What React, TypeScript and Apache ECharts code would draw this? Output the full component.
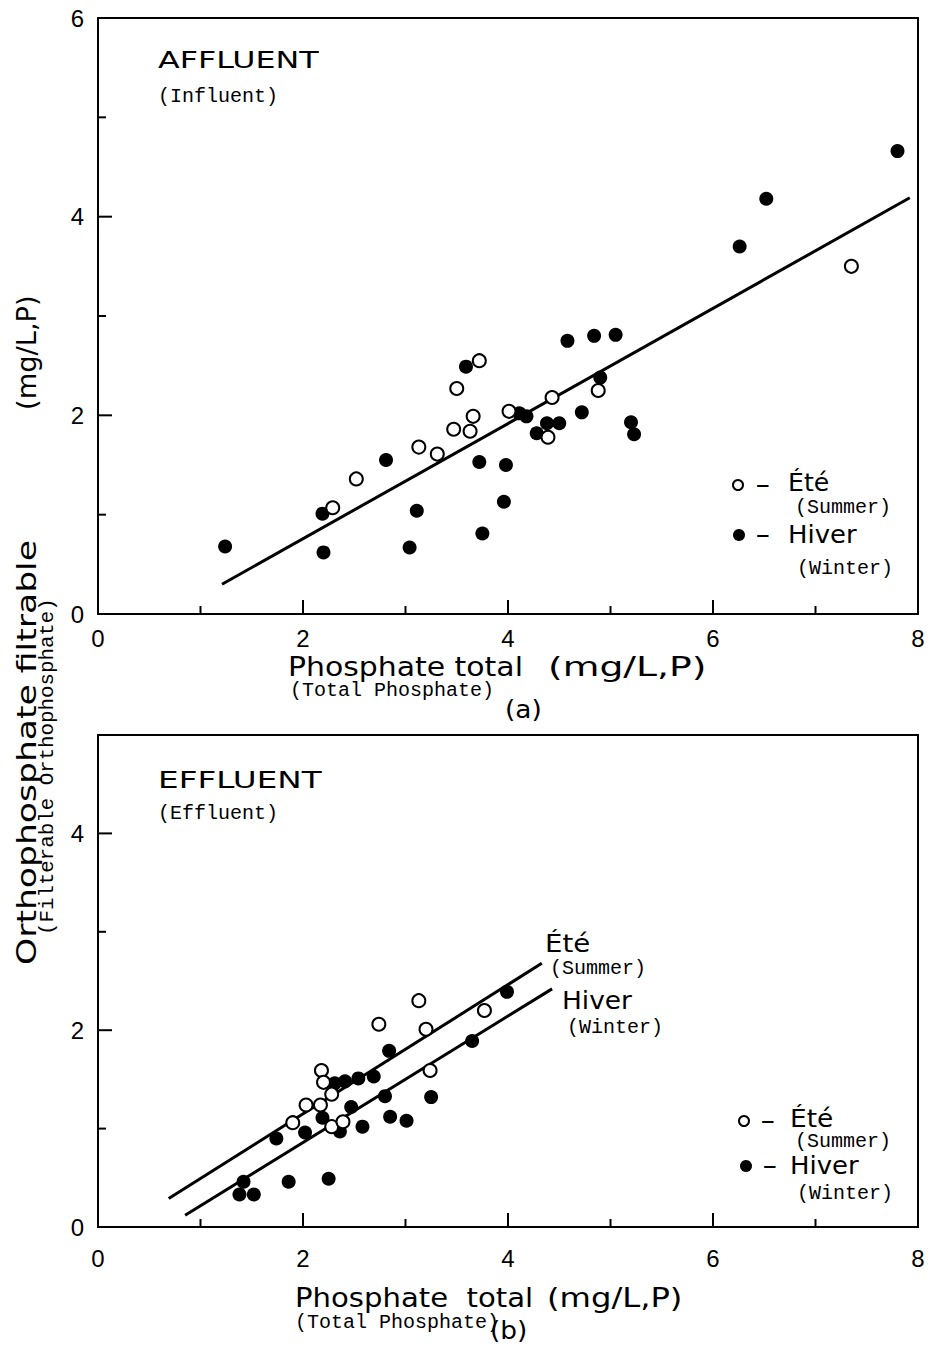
import React, { useEffect, useRef } from "react";
import * as echarts from "echarts";

// ---------- data ----------
// (a) Influent — summer (open circles)
const influentSummer: [number, number][] = [
  [2.29, 1.07], [2.52, 1.36], [3.13, 1.68], [3.31, 1.61], [3.47, 1.86],
  [3.5, 2.27], [3.63, 1.84], [3.66, 1.99], [3.72, 2.55], [4.01, 2.04],
  [4.39, 1.78], [4.43, 2.18], [4.88, 2.25], [7.35, 3.5],
];
// (a) Influent — winter (filled circles)
const influentWinter: [number, number][] = [
  [1.24, 0.68], [2.19, 1.01], [2.2, 0.62], [2.81, 1.55], [3.04, 0.67],
  [3.11, 1.04], [3.59, 2.49], [3.72, 1.53], [3.75, 0.81], [3.98, 1.5],
  [3.96, 1.13], [4.11, 2.02], [4.18, 1.99], [4.28, 1.82], [4.38, 1.92],
  [4.5, 1.92], [4.58, 2.75], [4.72, 2.03], [4.84, 2.8], [4.9, 2.38],
  [5.05, 2.81], [5.2, 1.93], [5.23, 1.81], [6.26, 3.7], [6.52, 4.18],
  [7.8, 4.66],
];
// (a) fitted line end points
const influentFit: [number, number][] = [[1.21, 0.3], [7.92, 4.19]];

// (b) Effluent — summer (open circles)
const effluentSummer: [number, number][] = [
  [1.9, 1.06], [2.03, 1.24], [2.17, 1.24], [2.18, 1.59], [2.2, 1.47],
  [2.28, 1.35], [2.28, 1.02], [2.39, 1.07], [2.74, 2.06], [3.13, 2.3],
  [3.2, 2.01], [3.24, 1.59], [3.77, 2.2],
];
// (b) Effluent — winter (filled circles)
const effluentWinter: [number, number][] = [
  [1.38, 0.33], [1.42, 0.46], [1.52, 0.33], [1.74, 0.9], [1.86, 0.46],
  [2.02, 0.96], [2.19, 1.11], [2.25, 0.49], [2.31, 1.46], [2.36, 0.97],
  [2.41, 1.48], [2.47, 1.22], [2.54, 1.51], [2.58, 1.02], [2.69, 1.53],
  [2.8, 1.33], [2.84, 1.79], [2.85, 1.12], [3.01, 1.08], [3.25, 1.32],
  [3.65, 1.89], [3.99, 2.39],
];
// (b) fitted lines
const effluentSummerFit: [number, number][] = [[0.69, 0.29], [4.33, 2.68]];
const effluentWinterFit: [number, number][] = [[0.85, 0.12], [4.43, 2.42]];

// tick labels and tick marks
const xLabelValues = [0, 2, 4, 6, 8];
const yTopLabelValues = [0, 2, 4, 6];
const yBottomLabelValues = [0, 2, 4];
const xMajorTicks = [2, 4, 6];
const xMinorTicks = [1, 3, 5, 7];
const yTopMajorTicks = [2, 4];
const yTopMinorTicks = [1, 3, 5];
const yBottomMajorTicks = [2, 4];
const yBottomMinorTicks = [1, 3];

// ---------- styling ----------
const SANS = "DejaVu Sans";
const MONO = "Liberation Mono";
const BLACK = "#000";
const MAJOR_LEN = 14;
const MINOR_LEN = 8;

function labelAxis(gridIndex: number, position: string, min: number, max: number, labels: number[], margin: number) {
  return {
    type: "value",
    gridIndex,
    position,
    min,
    max,
    interval: 2,
    axisLine: { show: true, onZero: false, lineStyle: { color: BLACK, width: 2 } },
    axisTick: { show: false },
    axisLabel: {
      show: true,
      margin,
      color: BLACK,
      fontFamily: "Liberation Sans",
      fontSize: 24,
      showMinLabel: true,
      showMaxLabel: true,
      formatter: (v: number) => (labels.includes(v) ? String(v) : ""),
    },
    splitLine: { show: false },
  };
}

function txt(
  text: string,
  x: number,
  y: number,
  opts: { size?: number; family?: string; scaleX?: number; rotation?: number; align?: string } = {}
) {
  const align = opts.align || "left";
  return {
    type: "text",
    x,
    y,
    rotation: opts.rotation || 0,
    scaleX: opts.scaleX || 1,
    style: {
      text,
      fill: BLACK,
      fontSize: opts.size || 24,
      fontFamily: opts.family || SANS,
      align,
      verticalAlign: "middle",
      textAlign: align,
      textVerticalAlign: "middle",
    },
  };
}

function openDot(cx: number, cy: number) {
  return { type: "circle", shape: { cx, cy, r: 5 }, style: { fill: "#fff", stroke: BLACK, lineWidth: 2 } };
}
function fullDot(cx: number, cy: number) {
  return { type: "circle", shape: { cx, cy, r: 6 }, style: { fill: BLACK } };
}

export default function App() {
  const ref = useRef<HTMLDivElement>(null);

  useEffect(() => {
    if (!ref.current) return;
    const chart = echarts.init(ref.current, undefined, { renderer: "svg" });

    const openStyle = { color: "#fff", borderColor: BLACK, borderWidth: 2, opacity: 1 };
    const fullStyle = { color: BLACK, opacity: 1 };

    const texts: any[] = [
      // ---- (a) ----
      txt("AFFLUENT", 158, 60, { size: 23, scaleX: 1.38 }),
      txt("(Influent)", 158, 96, { size: 20, family: MONO }),
      openDot(738, 485),
      txt("-", 755, 485, { size: 24, scaleX: 1.8 }),
      txt("Été", 788, 483, { size: 24, scaleX: 1.05 }),
      txt("(Summer)", 795, 507, { size: 20, family: MONO }),
      fullDot(739, 535),
      txt("-", 755, 535, { size: 24, scaleX: 1.8 }),
      txt("Hiver", 788, 535, { size: 24, scaleX: 1.08 }),
      txt("(Winter)", 797, 568, { size: 20, family: MONO }),
      txt("Phosphate total", 288, 667, { size: 26, scaleX: 1.15 }),
      txt("(mg/L,P)", 548, 667, { size: 26, scaleX: 1.45 }),
      txt("(Total Phosphate)", 290, 690, { size: 20, family: MONO }),
      txt("(a)", 505, 710, { size: 24, scaleX: 1.1 }),
      // ---- (b) ----
      txt("EFFLUENT", 158, 780, { size: 23, scaleX: 1.42 }),
      txt("(Effluent)", 158, 813, { size: 20, family: MONO }),
      txt("Été", 545, 944, { size: 24, scaleX: 1.15 }),
      txt("(Summer)", 550, 968, { size: 20, family: MONO }),
      txt("Hiver", 562, 1001, { size: 24, scaleX: 1.1 }),
      txt("(Winter)", 567, 1027, { size: 20, family: MONO }),
      openDot(744, 1121),
      txt("-", 760, 1121, { size: 24, scaleX: 1.8 }),
      txt("Été", 790, 1119, { size: 24, scaleX: 1.1 }),
      txt("(Summer)", 795, 1141, { size: 20, family: MONO }),
      fullDot(746, 1166),
      txt("-", 762, 1166, { size: 24, scaleX: 1.8 }),
      txt("Hiver", 790, 1166, { size: 24, scaleX: 1.08 }),
      txt("(Winter)", 797, 1193, { size: 20, family: MONO }),
      txt("Phosphate  total", 295, 1298, { size: 26, scaleX: 1.12 }),
      txt("(mg/L,P)", 547, 1298, { size: 26, scaleX: 1.24 }),
      txt("(Total Phosphate)", 295, 1322, { size: 20, family: MONO }),
      txt("(b)", 490, 1331, { size: 24, scaleX: 1.1 }),
      // ---- shared y title ----
      txt("Orthophosphate filtrable", 27, 965, { size: 26, scaleX: 1.33, rotation: Math.PI / 2 }),
      txt("(mg/L,P)", 27, 410, { size: 26, scaleX: 1.05, rotation: Math.PI / 2 }),
      txt("(Filterable Orthophosphate)", 48, 935, { size: 20, family: MONO, scaleX: 1.04, rotation: Math.PI / 2 }),
    ];

    const option: any = {
      animation: false,
      backgroundColor: "#fff",
      grid: [
        { left: 98, top: 18, width: 820, height: 596, show: true, borderColor: BLACK, borderWidth: 2, containLabel: false },
        { left: 98, top: 735, width: 820, height: 492, show: true, borderColor: BLACK, borderWidth: 2, containLabel: false },
      ],
      xAxis: [
        labelAxis(0, "bottom", 0, 8, xLabelValues, 12),
        labelAxis(1, "bottom", 0, 8, xLabelValues, 19),
      ],
      yAxis: [
        labelAxis(0, "left", 0, 6, yTopLabelValues, 14),
        labelAxis(1, "left", 0, 5, yBottomLabelValues, 14),
      ],
      series: [
        {
          type: "line", xAxisIndex: 0, yAxisIndex: 0, data: influentFit, symbol: "none",
          lineStyle: { color: BLACK, width: 3 }, z: 1,
        },
        {
          type: "scatter", name: "Hiver", xAxisIndex: 0, yAxisIndex: 0, data: influentWinter,
          symbol: "circle", symbolSize: 14, itemStyle: fullStyle, z: 2,
        },
        {
          type: "scatter", name: "Été", xAxisIndex: 0, yAxisIndex: 0, data: influentSummer,
          symbol: "circle", symbolSize: 13, itemStyle: openStyle, z: 3,
        },
        {
          type: "line", xAxisIndex: 1, yAxisIndex: 1, data: effluentSummerFit, symbol: "none",
          lineStyle: { color: BLACK, width: 3 }, z: 1,
        },
        {
          type: "line", xAxisIndex: 1, yAxisIndex: 1, data: effluentWinterFit, symbol: "none",
          lineStyle: { color: BLACK, width: 3 }, z: 1,
        },
        {
          type: "scatter", name: "Hiver", xAxisIndex: 1, yAxisIndex: 1, data: effluentWinter,
          symbol: "circle", symbolSize: 14, itemStyle: fullStyle, z: 2,
        },
        {
          type: "scatter", name: "Été", xAxisIndex: 1, yAxisIndex: 1, data: effluentSummer,
          symbol: "circle", symbolSize: 13, itemStyle: openStyle, z: 3,
        },
      ],
      graphic: texts,
    };

    chart.setOption(option);

    // tick marks drawn inward, positioned through the axes' own scales
    const tickLine = (x1: number, y1: number, x2: number, y2: number) => ({
      type: "line",
      shape: { x1, y1, x2, y2 },
      style: { stroke: BLACK, lineWidth: 2 },
      z: 10,
    });
    const ticks: any[] = [];
    const addX = (g: number, values: number[], len: number) => {
      values.forEach((v) => {
        const p = chart.convertToPixel({ gridIndex: g }, [v, 0]) as number[];
        if (p) ticks.push(tickLine(p[0], p[1], p[0], p[1] - len));
      });
    };
    const addY = (g: number, values: number[], len: number) => {
      values.forEach((v) => {
        const p = chart.convertToPixel({ gridIndex: g }, [0, v]) as number[];
        if (p) ticks.push(tickLine(p[0], p[1], p[0] + len, p[1]));
      });
    };
    addX(0, xMajorTicks, MAJOR_LEN);
    addX(0, xMinorTicks, MINOR_LEN);
    addY(0, yTopMajorTicks, MAJOR_LEN);
    addY(0, yTopMinorTicks, MINOR_LEN);
    addX(1, xMajorTicks, MAJOR_LEN);
    addX(1, xMinorTicks, MINOR_LEN);
    addY(1, yBottomMajorTicks, MAJOR_LEN);
    addY(1, yBottomMinorTicks, MINOR_LEN);

    chart.setOption({ graphic: [...texts, ...ticks] });

    return () => chart.dispose();
  }, []);

  return (
    <div
      ref={ref}
      style={{ position: "absolute", left: 0, top: 0, width: 930, height: 1348, background: "#fff" }}
    />
  );
}
